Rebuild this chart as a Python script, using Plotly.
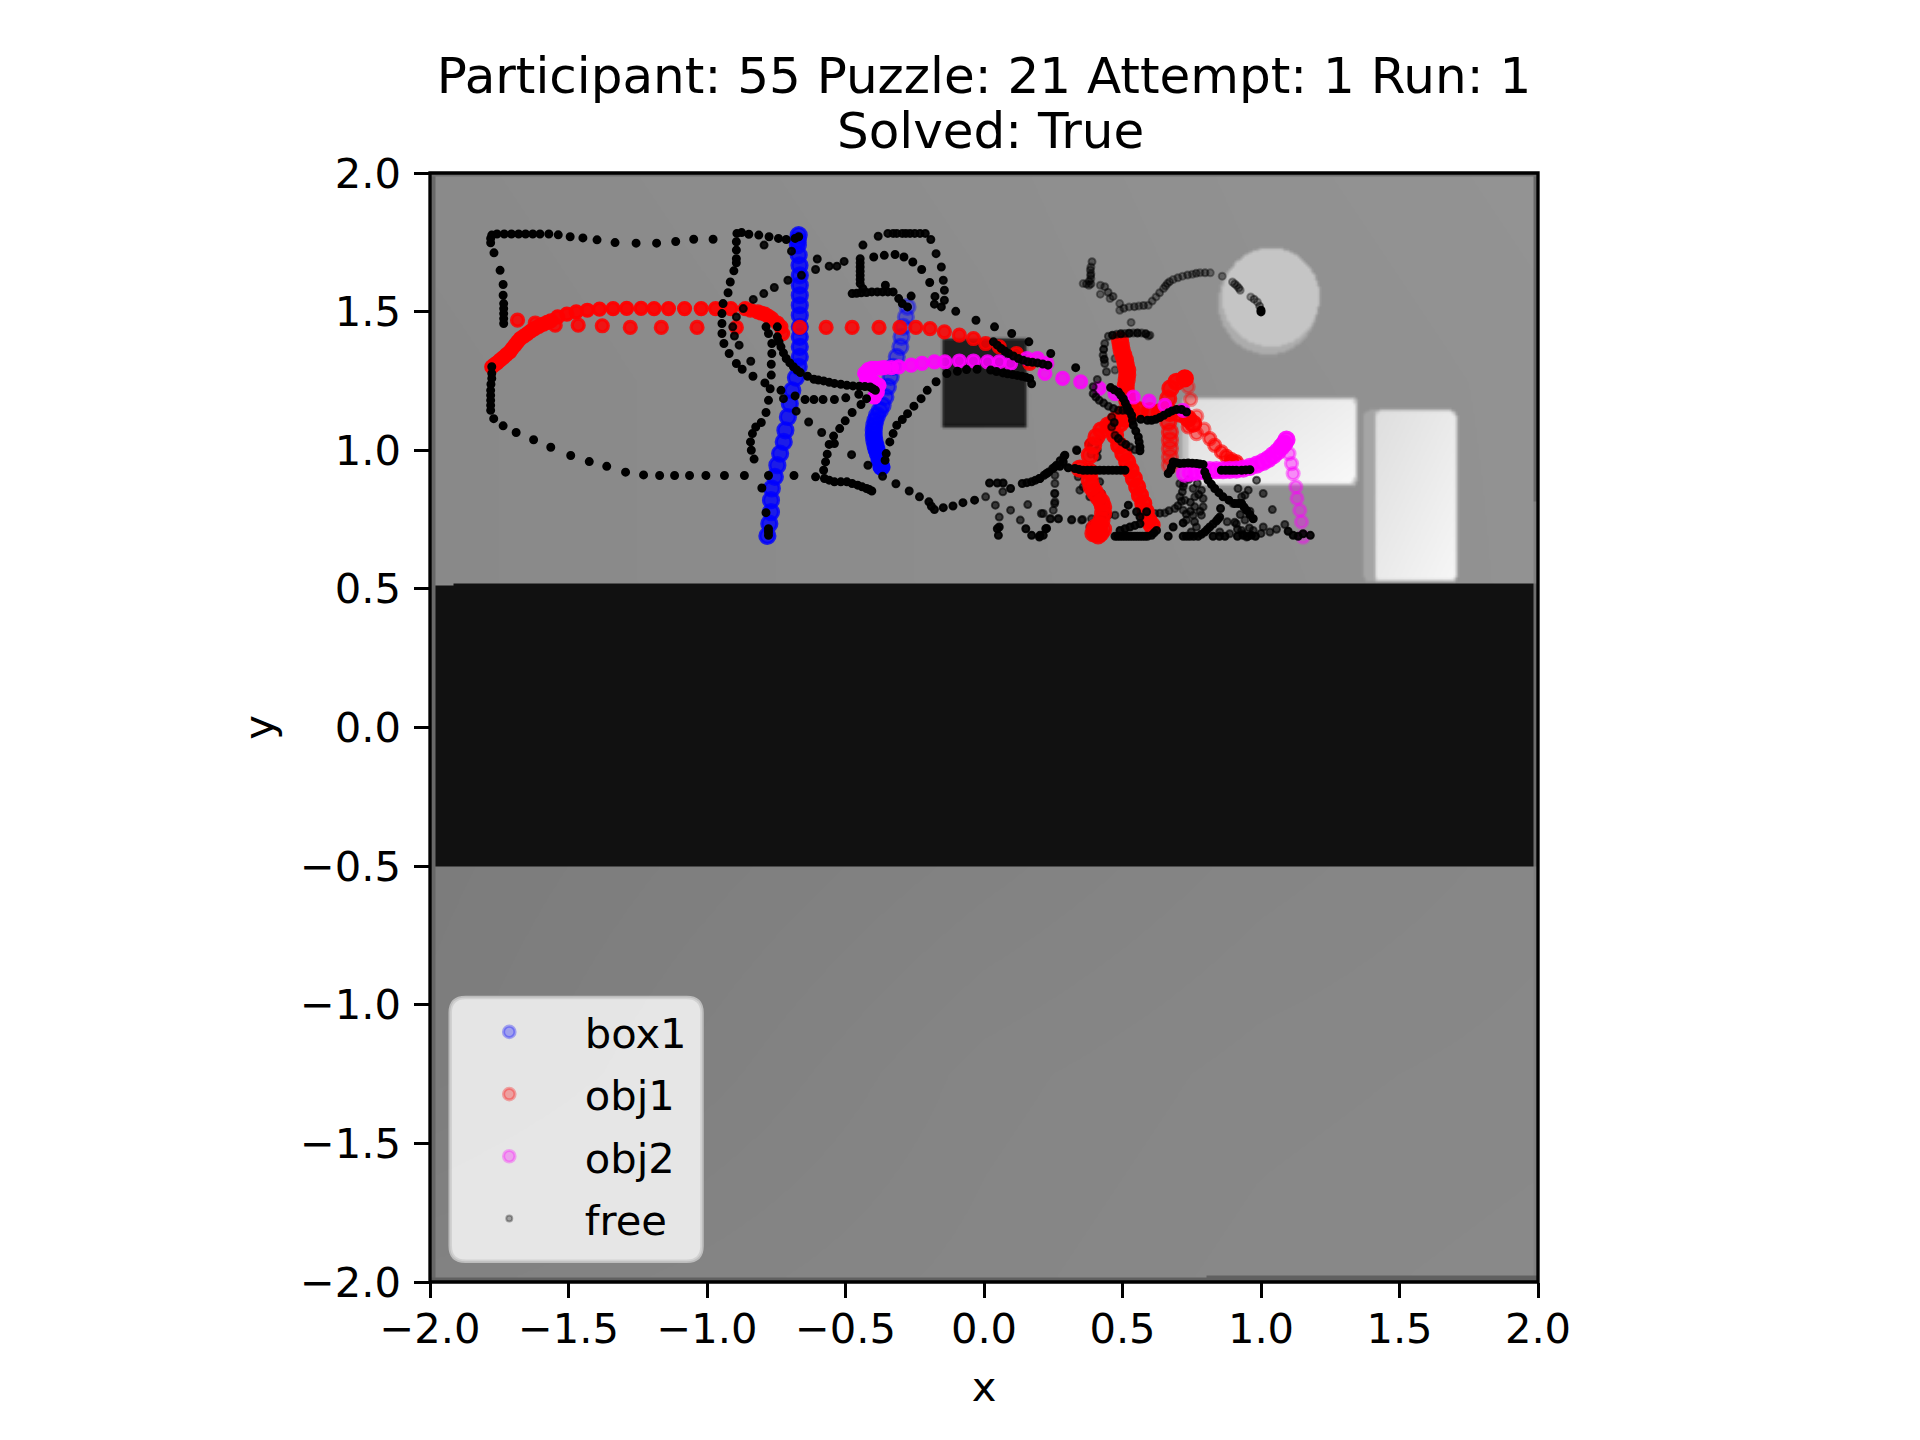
import numpy as np
import plotly.graph_objects as go

# ---------- text ----------
title_line1 = "Participant: 55 Puzzle: 21 Attempt: 1 Run: 1"
title_line2 = "Solved: True"
tick_values = [-2.0, -1.5, -1.0, -0.5, 0.0, 0.5, 1.0, 1.5, 2.0]
legend_names = ["box1", "obj1", "obj2", "free"]

# ---------- trajectory values (x, y in axis units) ----------
box1_a_x = [-.276,-.282,-.291,-.298,-.302,-.315,-.328,-.337,-.347,-.356,-.366,-.376,-.386,-.392,-.396,-.398,-.398,-.396,-.392,-.388,-.383,-.377,-.370]
box1_a_y = [1.517,1.481,1.445,1.409,1.373,1.337,1.301,1.265,1.229,1.192,1.162,1.144,1.126,1.108,1.090,1.072,1.054,1.036,1.018,1.003,.988,.964,.940]
box1_b_x = [-.669,-.672,-.672,-.669,-.666,-.665,-.665,-.665,-.665,-.665,-.665,-.665,-.665,-.665,-.669,-.679,-.692,-.701,-.708,-.717,-.723,-.736,-.746,-.755,-.766,-.769,-.769,-.775,-.782]
box1_b_y = [1.776,1.758,1.740,1.704,1.667,1.631,1.595,1.559,1.523,1.487,1.445,1.409,1.373,1.337,1.301,1.262,1.216,1.168,1.120,1.072,1.030,.988,.946,.904,.862,.820,.777,.735,.691]

obj1_sparse_x = [.165,.117,.055,.006,-.038,-.089,-.143,-.195,-.246,-.304,-.379,-.476,-.570,-.665,-.894,-1.036,-1.165,-1.277,-1.378,-1.465,-1.548,-1.620,-1.684]
obj1_sparse_y = [1.313,1.349,1.373,1.385,1.403,1.415,1.427,1.439,1.443,1.443,1.443,1.443,1.443,1.443,1.443,1.443,1.443,1.443,1.449,1.451,1.451,1.459,1.469]
obj1_arc_x = [-.727,-.733,-.746,-.766,-.778,-.791,-.804,-.817,-.843,-.862,-.914,-.969,-1.021,-1.081,-1.139,-1.191,-1.238,-1.290,-1.339,-1.388,-1.432,-1.472,-1.506,-1.539,-1.564,-1.577,-1.590,-1.607,-1.622,-1.635,-1.648,-1.661,-1.674,-1.684,-1.693,-1.703,-1.712,-1.724,-1.736,-1.747,-1.758,-1.768,-1.777]
obj1_arc_y = [1.421,1.445,1.459,1.475,1.483,1.491,1.495,1.499,1.505,1.511,1.511,1.511,1.511,1.511,1.511,1.511,1.512,1.512,1.511,1.509,1.505,1.499,1.491,1.481,1.467,1.461,1.455,1.447,1.439,1.431,1.421,1.412,1.403,1.391,1.379,1.367,1.355,1.345,1.334,1.325,1.315,1.308,1.301]
obj1_top_x = [.491,.494,.497,.503,.509,.512,.517,.517,.515,.512,.512,.515,.517,.524,.527,.512,.491]
obj1_top_y = [1.397,1.379,1.361,1.343,1.325,1.307,1.289,1.271,1.253,1.234,1.216,1.198,1.180,1.156,1.132,1.114,1.096]
obj1_left_x = [.395,.400,.420,.430,.405,.412,.409,.416,.424,.430,.430,.424,.412,.400,.388,.382,.382,.346,.382,.394,.406,.424,.449,.473,.503,.533,.563,.599,.635,.671,.707,.737,.755]
obj1_left_y = [.700,.720,.700,.715,.700,.693,.711,.729,.747,.772,.796,.814,.832,.850,.868,.892,.922,.934,.982,1.018,1.048,1.072,1.090,1.108,1.132,1.144,1.144,1.141,1.138,1.135,1.132,1.114,1.096]
obj1_right_x = [.461,.473,.488,.503,.517,.529,.541,.553,.563,.575,.584,.593,.605]
obj1_right_y = [1.090,1.054,1.018,.988,.958,.928,.898,.868,.838,.808,.778,.748,.730]
obj1_hook_x = [.671,.671,.671,.671,.671,.665,.663,.665,.673,.695,.725]
obj1_hook_y = [.946,.976,1.006,1.036,1.066,1.102,1.144,1.186,1.223,1.247,1.259]
obj1_rings_x = [.737,.746,.768,.794,.767,.737,.815,.833,.857,.875,.893,.911,.893]
obj1_rings_y = [1.229,1.183,1.123,1.076,1.060,1.084,1.042,1.018,.994,.978,.966,.958,.958]

obj2_rings_x = [1.152,1.146,1.140,1.130,1.126,1.116,1.110,1.101]
obj2_rings_y = [.687,.742,.783,.826,.868,.916,.952,.988]
obj2_curve_x = [1.092,1.084,1.074,1.060,1.044,1.027,1.008,.985,.960,.936,.911,.887,.863,.839,.815,.791,.767,.746,.725]
obj2_curve_y = [1.038,1.024,1.012,.996,.982,.969,.958,.948,.940,.934,.930,.929,.928,.928,.928,.925,.922,.919,.916]
obj2_long_x = [.719,.653,.596,.539,.473,.416,.349,.284,.220,.227,.193,.155,.096,.055,.013,-.038,-.089,-.141,-.179,-.224,-.263,-.308,-.334,-.360,-.373,-.392,-.405,-.418,-.431,-.424,-.398,-.379,-.385,-.396]
obj2_long_y = [1.144,1.162,1.177,1.192,1.204,1.223,1.247,1.259,1.277,1.313,1.331,1.331,1.313,1.319,1.319,1.322,1.322,1.319,1.319,1.313,1.307,1.301,1.298,1.298,1.296,1.295,1.295,1.291,1.277,1.258,1.246,1.234,1.210,1.192]

free_top_x = [-1.734,-1.734,-1.734,-1.734,-1.734,-1.736,-1.736,-1.747,-1.769,-1.781,-1.781,-1.777,-1.758,-1.732,-1.706,-1.680,-1.655,-1.629,-1.603,-1.571,-1.537,-1.494,-1.448,-1.397,-1.332,-1.256,-1.182,-1.113,-1.048,-.978]
free_top_y = [1.457,1.475,1.493,1.511,1.529,1.559,1.598,1.649,1.712,1.748,1.764,1.776,1.780,1.780,1.780,1.780,1.780,1.780,1.780,1.780,1.777,1.770,1.766,1.759,1.749,1.747,1.747,1.753,1.761,1.761]
free_mid_x = [-.892,-.875,-.849,-.813,-.776,-.742,-.714,-.682,-.669,-.894,-.894,-.894,-.894,-.903,-.916,-.924,-.942,-.946,-.946,-.946,-.939,-.920,-.894,-.873,-.834,-.791,-.772,-.733,-.682,-.646,-.614,-.581,-.540,-.499,-.452]
free_mid_y = [1.782,1.785,1.779,1.776,1.770,1.764,1.760,1.764,1.770,1.752,1.722,1.691,1.676,1.647,1.607,1.568,1.529,1.493,1.457,1.421,1.385,1.349,1.313,1.292,1.267,1.243,1.222,1.216,1.196,1.183,1.183,1.183,1.183,1.189,1.202]
free_drop_x = [-.787,-.778,-.766,-.766,-.768,-.768,-.778,-.787,-.804,-.824,-.836,-.843,-.840,-.830]
free_drop_y = [1.445,1.421,1.385,1.349,1.310,1.271,1.180,1.136,1.100,1.084,1.060,1.030,1.000,.968]
free_cross_x = [-.746,-.746,-.740,-.733,-.724,-.714,-.701,-.688,-.675,-.663,-.637,-.614,-.598,-.579,-.559,-.540,-.517,-.495,-.473,-.450,-.430,-.411,-.401,-.392,-.424,-.444,-.476,-.501,-.521,-.543,-.540,-.559,-.566,-.572,-.579,-.576,-.559,-.540,-.517,-.495,-.476,-.456,-.440,-.424,-.414,-.405]
free_cross_y = [1.445,1.409,1.391,1.373,1.351,1.331,1.315,1.301,1.289,1.280,1.267,1.256,1.253,1.250,1.245,1.241,1.238,1.234,1.232,1.231,1.230,1.228,1.222,1.216,1.186,1.165,1.136,1.106,1.078,1.051,1.024,1.021,.986,.958,.928,.898,.892,.886,.886,.886,.880,.874,.868,.862,.858,.853]
free_loop_x = [-1.777,-1.777,-1.777,-1.780,-1.781,-1.781,-1.781,-1.781,-1.781,-1.770,-1.736,-1.689,-1.626,-1.564,-1.492,-1.425,-1.362,-1.294,-1.229,-1.171,-1.117,-1.063,-1.004,-.937,-.865,-.778,-.686,-.608,-.802,-.787,-.778,-.778,-.778]
free_loop_y = [1.301,1.277,1.259,1.238,1.216,1.198,1.180,1.162,1.144,1.114,1.088,1.064,1.038,1.011,.981,.959,.942,.921,.911,.909,.909,.909,.909,.909,.909,.909,.909,.904,.864,.775,.717,.705,.693]
free_dim_x = [-.907,-.894,-.869,-.833,-.795,-.757,-.708,-.659,-.608,-.559,-.531,-.505,-.602,-.794,-.695,-.901,-.884,-.842,-.724,-.678,-.633,-.586,-.478,-.419,-.366,-.318,-.270,-.233,-.199,-.190,-.179,-.147,-.112,-.076,-.034]
free_dim_y = [1.445,1.481,1.511,1.544,1.565,1.587,1.613,1.631,1.652,1.664,1.664,1.681,1.690,1.740,1.718,1.412,1.379,1.321,1.186,1.141,1.102,1.064,.984,.946,.906,.879,.853,.832,.814,.798,.786,.793,.799,.811,.820]
free_hook_x = [-.382,-.347,-.328,-.315,-.295,-.282,-.267,-.250,-.231,-.212,-.192,-.173,-.154,-.147,-.143,-.143,-.154,-.179,-.177,-.102,-.029,-.437,-.447,-.447,-.447,-.447,-.447,-.447,-.447,-.437,-.476,-.460,-.443,-.424,-.405,-.385,-.366,-.347,-.328,-.308,-.295,-.276,-.263,-.356,-.398,-.360,-.321,-.289,-.257,-.225,-.196]
free_hook_y = [1.772,1.782,1.782,1.782,1.782,1.782,1.782,1.782,1.782,1.782,1.760,1.709,1.661,1.613,1.577,1.541,1.517,1.527,1.555,1.501,1.469,1.740,1.691,1.676,1.661,1.646,1.631,1.616,1.601,1.583,1.565,1.566,1.568,1.569,1.571,1.571,1.571,1.571,1.571,1.547,1.529,1.517,1.556,1.595,1.697,1.703,1.706,1.697,1.679,1.652,1.605]
free_arc_x = [-.357,-.353,-.340,-.328,-.315,-.295,-.276,-.253,-.227,-.205,-.173,-.134,-.096,-.063,-.025]
free_arc_y = [.964,.988,1.030,1.060,1.090,1.111,1.132,1.159,1.186,1.216,1.247,1.277,1.285,1.291,1.292]
free_lid_x = [.038,.100,.162,.241,.331,.034,.048,.062,.075,.089,.106,.124,.141,.158,.175,.193,.212,.231,.024,.045,.068,.085,.103,.120,.137,.152,.165,.172]
free_lid_y = [1.445,1.421,1.391,1.349,1.298,1.391,1.379,1.367,1.358,1.349,1.340,1.331,1.325,1.319,1.317,1.315,1.311,1.307,1.289,1.284,1.279,1.276,1.273,1.270,1.267,1.263,1.259,1.240]
free_start_x = [.987,.963,.925,.913,.897,.860,.817,.780,.752,.717,.683,.662,.648,.621,.593,.559,.524,.490,.490,.455,.420,.420,.379,.358,.386,.386,.386,.531,.593,.473,.473,.607,.634,.655,.670,.700,.735,.766,.798,.905,.920,.975,.995,.370,.386,.390,.384,.385,.380,.505,.543,.576,.436,.448,.466]
free_start_y = [1.535,1.553,1.577,1.593,1.607,1.628,1.640,1.640,1.635,1.628,1.616,1.601,1.583,1.553,1.523,1.520,1.517,1.505,1.529,1.547,1.563,1.595,1.595,1.601,1.619,1.637,1.661,1.461,1.412,1.331,1.289,1.538,1.568,1.592,1.608,1.622,1.632,1.638,1.640,1.600,1.585,1.545,1.520,1.600,1.600,1.680,1.650,1.630,1.610,1.512,1.518,1.522,1.590,1.570,1.555]
free_ball_x = [1.000,1.000]
free_ball_y = [1.499,1.505]
free_upper_x = [.599,.569,.539,.509,.479,.449,.436,.430,.436,.442,.409,.461,.461,.473,.497,.527,.545,.394,.394,.416,.449,.485,.517,.404,.432,.467,.501,.432,.434,.584,.554,.524,.494,.464,.470,.485,.512]
free_upper_y = [1.415,1.423,1.423,1.421,1.418,1.411,1.385,1.343,1.313,1.283,1.255,1.120,1.084,1.054,1.030,1.012,1.002,1.229,1.204,1.180,1.159,1.144,1.144,1.192,1.170,1.151,1.144,1.364,1.328,1.420,1.423,1.422,1.420,1.415,1.100,1.042,1.021]
free_dots_x = [.334,.380,.386,.617,.653,.689,.707,.719,.707,.719,.725,.256,.256,.256,.256,.250,.214,.238,.268,.316,.352,.388,.382,.340,.346,.358,.382,.400,.418,.449,.473,.755,.785,.761,.791,.761,.791,.755,.785,.731,.767,.917,.954,.942,.930,.984,1.008,1.041,.899,.878,.911,.942,.930,.972,.948,.935,.851,.887,1.008,1.032,1.056,1.086,.006,.041,.096,.158,.207,.241,.269,.317,.356,.255,.255,.068,.131,.055,.379,.412,.409,.409,.418,.424,.424,.430,.635,.668,.700,.713,.716,.722,.740,.770,.775,.745,.780,.745,.760,.730,.748,.958,.925,.905,.915,.960,1.000]
free_dots_y = [1.002,1.024,.986,.772,.774,.790,.832,.868,.880,.784,.820,.910,.880,.844,.814,.784,.772,.753,.753,.748,.748,.753,.723,.904,.856,.868,.832,.826,.802,.766,.766,.862,.856,.832,.826,.796,.796,.766,.766,.748,.723,.862,.856,.838,.832,.892,.844,.786,.808,.742,.735,.748,.711,.711,.687,.699,.705,.699,.723,.705,.715,.732,.832,.802,.784,.804,.772,.753,.753,.750,.750,.844,.808,.850,.748,.759,1.024,1.030,1.000,.976,.886,.844,.808,.766,.773,.782,.800,.816,.850,.880,.895,.880,.840,.812,.780,.780,.742,.770,.705,.720,.768,.740,.715,.780,.700]
free_late_x = [.457,.470,.485,.494,.503,.510,.517,.525,.533,.536,.539,.548,.557,.560,.563,.563,.566,.590,.605,.620,.635,.649,.665,.679,.695,.713,.731,.202,.226,.256,.274,.286,.292,.304,.328,.343,.358,.373,.388,.403,.418,.433,.449,.464,.479,.494,.509,.665,.674,.677,.683,.695,.707,.722,.737,.752,.767,.779,.791,.797,.803,.809,.821,.833,.848,.863,.884,.905,.918,.930,.939,.948,.960,.972,.857,.872,.886,.898,.911,.930,.945,.960]
free_late_y = [1.226,1.218,1.210,1.198,1.186,1.171,1.156,1.141,1.126,1.108,1.090,1.069,1.048,1.030,1.012,.998,1.112,1.108,1.108,1.112,1.118,1.126,1.135,1.142,1.147,1.147,1.138,.898,.916,.940,.942,.958,.982,.937,.934,.931,.928,.928,.928,.928,.928,.928,.928,.928,.928,.928,.928,.916,.928,.940,.958,.955,.952,.953,.954,.953,.952,.950,.949,.922,.907,.892,.877,.862,.847,.832,.820,.808,.808,.808,.795,.783,.768,.753,.928,.928,.928,.928,.928,.928,.929,.930]
free_floor_x = [.473,.482,.491,.500,.509,.518,.527,.536,.545,.554,.563,.572,.581,.590,.605,.614,.623,.563,.545,.527,.509,.491,.509,.521,.551,.587,.563,.665,.683,.719,.719,.731,.743,.757,.773,.785,.797,.806,.815,.827,.839,.845,.851,.854,.827,.850,.870,.915,.935,.952,.965,.980,1.098,1.116,1.134,1.152,1.178,.202,.214,.226,.048,.052,.151,.172,.200,.223,.055,.020,.048,.069,.096,.138,.155,.172,.186,.200,.217,.234,.248,.262,.275,.289,.335]
free_floor_y = [.690,.690,.690,.690,.690,.690,.690,.690,.690,.690,.690,.690,.690,.690,.693,.702,.711,.735,.729,.723,.717,.711,.772,.802,.778,.778,.760,.690,.723,.738,.690,.690,.690,.690,.690,.697,.705,.714,.723,.734,.745,.752,.759,.790,.690,.690,.690,.690,.693,.690,.693,.690,.708,.693,.690,.699,.693,.693,.693,.718,.717,.693,.717,.693,.687,.717,.723,.882,.882,.882,.862,.880,.883,.886,.892,.898,.910,.922,.934,.946,.962,.978,.999]

# ---------- drawing order, ramps of opacity (start, end) and marker diameter ----------
BLUE, RED, MAGENTA, BLACK = (0,0,255), (255,0,0), (255,0,255), (0,0,0)
DOT, RING, STROKE = 7, 12, 15
layers = [
    (free_start_x, free_start_y, BLACK, .32, .45, DOT),
    (free_dots_x, free_dots_y, BLACK, .55, .65, DOT),
    (box1_a_x, box1_a_y, BLUE, .35, 1.0, STROKE),
    (box1_b_x, box1_b_y, BLUE, .8, .8, STROKE),
    (obj1_rings_x, obj1_rings_y, RED, .35, .8, RING),
    (obj1_hook_x, obj1_hook_y, RED, .4, 1.0, STROKE),
    (obj1_top_x, obj1_top_y, RED, .85, .9, STROKE),
    (obj1_left_x, obj1_left_y, RED, .85, .9, STROKE),
    (obj1_right_x, obj1_right_y, RED, .95, .95, STROKE),
    (obj1_sparse_x, obj1_sparse_y, RED, .85, .85, RING),
    (obj1_arc_x, obj1_arc_y, RED, .9, 1.0, RING),
    (obj2_rings_x, obj2_rings_y, MAGENTA, .35, .45, RING),
    (obj2_curve_x, obj2_curve_y, MAGENTA, .9, .75, STROKE),
    (obj2_long_x, obj2_long_y, MAGENTA, .75, 1.0, RING),
    (free_ball_x, free_ball_y, BLACK, .95, .95, DOT),
    (free_upper_x, free_upper_y, BLACK, .45, .85, DOT),
    (free_late_x, free_late_y, BLACK, .95, 1.0, DOT),
    (free_floor_x, free_floor_y, BLACK, .9, .9, DOT),
    (free_lid_x, free_lid_y, BLACK, .95, .95, DOT),
    (free_dim_x, free_dim_y, BLACK, .85, .95, DOT),
    (free_arc_x, free_arc_y, BLACK, 1.0, 1.0, DOT),
    (free_hook_x, free_hook_y, BLACK, .9, 1.0, DOT),
    (free_cross_x, free_cross_y, BLACK, 1.0, 1.0, DOT),
    (free_drop_x, free_drop_y, BLACK, 1.0, 1.0, DOT),
    (free_mid_x, free_mid_y, BLACK, 1.0, 1.0, DOT),
    (free_loop_x, free_loop_y, BLACK, 1.0, 1.0, DOT),
    (free_top_x, free_top_y, BLACK, 1.0, 1.0, DOT),
]

# ---------- backdrop picture (a grey depth image under the points) ----------
bg_x = [-2, -1, 0, 1, 2]
bg_y = [-2, -1.25, -.5, .52, 1.25, 2]
bg_gray = [[130,132,134,136,137],
           [125,129,133,135,136],
           [124,127,130,133,135],
           [137,139,141,143,146],
           [137,139,141,144,146],
           [138,140,142,145,147]]

N = 554
gx = np.linspace(-2, 2, N)
gy = np.linspace(-2, 2, N)
X, Y = np.meshgrid(gx, gy)
rows = np.array([np.interp(gx, bg_x, r) for r in bg_gray])
Z = np.array([np.interp(gy, bg_y, rows[:, j]) for j in range(N)]).T

def ellipse(cx, cy, rx, ry):
    return ((X - cx) / rx) ** 2 + ((Y - cy) / ry) ** 2 <= 1

def rrect(x0, x1, y0, y1, r=.02):
    dx = np.maximum(np.maximum(x0 + r - X, X - (x1 - r)), 0)
    dy = np.maximum(np.maximum(y0 + r - Y, Y - (y1 - r)), 0)
    return dx ** 2 + dy ** 2 <= r ** 2

# table box
Z[rrect(.70, 1.0, .90, 1.17)] = 165
Z[rrect(.715, 1.343, .874, 1.196)] = 195
m = rrect(.735, 1.335, .885, 1.188)
Z[m] = (222 + 26 * (.6 * (X - .735) / .6 + .4 * (1.188 - Y) / .303))[m]
# tall box
Z[rrect(1.37, 1.45, .525, 1.147)] = 165
Z[rrect(1.408, 1.704, .525, 1.147)] = 205
m = rrect(1.412, 1.698, .532, 1.14)
Z[m] = (222 + 24 * (.5 * (X - 1.412) / .286 + .5 * (1.14 - Y) / .608))[m]
# ball
Z[ellipse(1.024, 1.532, .178, .186)] = 172
Z[ellipse(1.034, 1.552, .174, .178)] = 197
# dark box
Z[rrect(-.151, .154, 1.082, 1.406, .012)] = 24
Z[rrect(-.151, .154, 1.10, 1.406, .012)] = 31
# soft edges like a resampled picture
Z = (Z * 2 + np.roll(Z, 1, 0) + np.roll(Z, -1, 0) + np.roll(Z, 1, 1) + np.roll(Z, -1, 1)) / 6
# floor gap
Z[(Y > -.497) & (Y < .519)] = 17
Z[(Y > .513) & (Y < .519) & (X < -1.92)] = 139
# picture margins
Z[X < -1.98] = 104
Z[(X > 1.98) & (Y > .82)] = 104
Z[(X > 1.98) & (Y <= .82)] = 128
Z[(X > 1.98) & (Y < .52) & (Y > -.5)] = 110
Z[Y > 1.99] = 112
Z[(Y < -1.975) & (X > .8)] = 96
Z[(Y < -1.98)] = 96

fig = go.Figure()
fig.add_trace(go.Heatmap(x=gx, y=gy, z=np.round(Z).astype(int).tolist(), zmin=0, zmax=255,
                         colorscale=[[0, "#000000"], [1, "#ffffff"]], showscale=False,
                         hoverinfo="skip", zsmooth="best"))

def rgba(c, a):
    return f"rgba({c[0]},{c[1]},{c[2]},{a:.3f})"

for xs, ys, c, a0, a1, sz in layers:
    alphas = np.linspace(a0, a1, len(xs))
    cols = [rgba(c, a) for a in alphas]
    black = c == BLACK
    fig.add_trace(go.Scatter(x=xs, y=ys, mode="markers", showlegend=False, hoverinfo="skip",
                             marker=dict(size=sz, color=cols,
                                         line=dict(color=cols, width=2 if black else 3.2))))

legend_colors = [BLUE, RED, MAGENTA, BLACK]
for name, c in zip(legend_names, legend_colors):
    black = c == BLACK
    fig.add_trace(go.Scatter(x=[None], y=[None], mode="markers", name=name, legendgroup=name,
                             marker=dict(size=6 if black else 11.5, color=rgba(c, .3),
                                         line=dict(color=rgba(c, .3), width=2 if black else 3.2))))

FONT = "DejaVu Sans"
TS = 41.67
axis = dict(range=[-2, 2], tickmode="array", tickvals=tick_values, tickformat=".1f",
            showgrid=False, zeroline=False, showline=False, ticks="outside", ticklen=14.6,
            tickwidth=3.33, tickcolor="black", tickfont=dict(family=FONT, size=TS, color="black"))

r = .055
x0, x1, y0, y1 = -1.927, -1.018, -1.925, -.974
legend_box = (f"M {x0+r} {y0} L {x1-r} {y0} Q {x1} {y0} {x1} {y0+r} L {x1} {y1-r} Q {x1} {y1} {x1-r} {y1} "
              f"L {x0+r} {y1} Q {x0} {y1} {x0} {y1-r} L {x0} {y0+r} Q {x0} {y0} {x0+r} {y0} Z")

fig.update_layout(
    width=1920, height=1440, paper_bgcolor="white", plot_bgcolor="white",
    margin=dict(l=429.6, r=381.6, t=172.8, b=158.4, pad=0, autoexpand=False),
    font=dict(family=FONT, size=TS, color="black"),
    title=dict(text=title_line1, x=984/1920, xanchor="center", y=1-75/1440, yanchor="middle",
               font=dict(family=FONT, size=50, color="black")),
    xaxis=dict(axis, ticklabelstandoff=-5, title=dict(text="x", standoff=20, font=dict(family=FONT, size=TS, color="black"))),
    yaxis=dict(axis, ticklabelstandoff=5, title=dict(text="y", standoff=13, font=dict(family=FONT, size=TS, color="black"))),
    legend=dict(x=.0034, y=.2558, xanchor="left", yanchor="top", bgcolor="rgba(0,0,0,0)", borderwidth=0,
                itemwidth=141, tracegroupgap=5, font=dict(family=FONT, size=TS, color="black")),
    shapes=[dict(type="path", path=legend_box, xref="x", yref="y", layer="above",
                 fillcolor="rgba(255,255,255,.8)", line=dict(color="rgba(204,204,204,.8)", width=3.5)),
            dict(type="rect", x0=0, x1=1, y0=0, y1=1, xref="paper", yref="paper", layer="above",
                 fillcolor="rgba(0,0,0,0)", line=dict(color="black", width=3.33))],
    annotations=[dict(text=title_line2, xref="paper", yref="paper", x=.5063, y=1.0377, xanchor="center",
                      yanchor="middle", showarrow=False, font=dict(family=FONT, size=50, color="black"))],
)
fig.write_html("out.html", config=dict(displayModeBar=False),
               post_script="document.body.style.margin='0';")
